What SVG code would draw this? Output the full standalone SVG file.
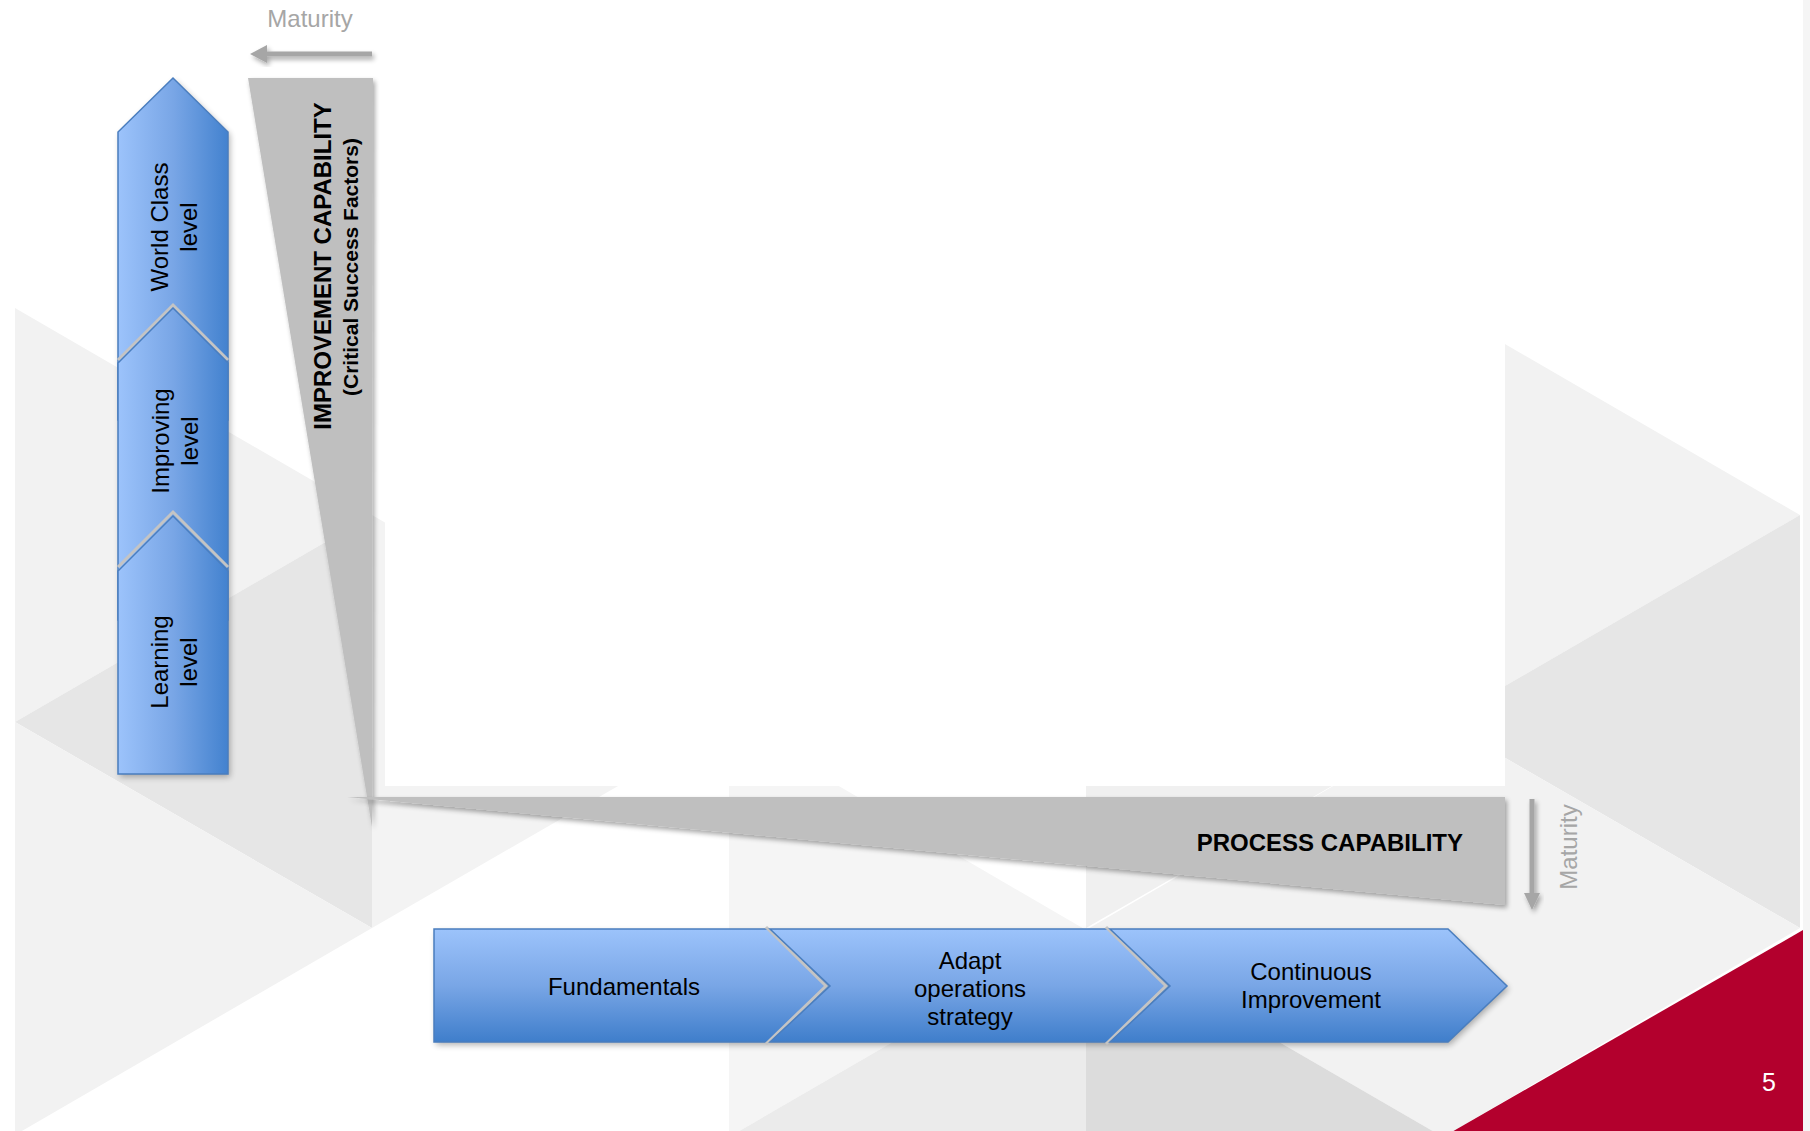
<svg xmlns="http://www.w3.org/2000/svg" width="1810" height="1131" viewBox="0 0 1810 1131">
<defs>
<style>
.t{font-family:"Liberation Sans",Arial,sans-serif;font-size:24px;fill:#000}
.b{font-weight:bold}
.mat{font-family:"Liberation Sans",Arial,sans-serif;font-size:24px;fill:#a6a6a6}
.blueV{fill:url(#gv);stroke:#4a7ebf;stroke-width:1.5}
.blueH{fill:url(#gh);stroke:#4a7ebf;stroke-width:1.5}
.bevel{fill:none;stroke:#c4c4c4;stroke-width:3}
.grey{fill:#bfbfbf}
.axis{stroke:#7f7f7f;stroke-width:5;fill:none}
.marr{stroke:#a6a6a6;stroke-width:5;fill:none}
.shadow{fill:#000;opacity:0.3}
</style>
<linearGradient id="gv" x1="0" y1="0" x2="0" y2="1">
<stop offset="0" stop-color="#9cc3fb"/>
<stop offset="0.5" stop-color="#79a6e6"/>
<stop offset="1" stop-color="#3f7ecb"/>
</linearGradient>
<linearGradient id="gh" x1="0" y1="0" x2="1" y2="0">
<stop offset="0" stop-color="#9cc3fb"/>
<stop offset="0.5" stop-color="#79a6e6"/>
<stop offset="1" stop-color="#4382cf"/>
</linearGradient>
<filter id="sh" x="-20%" y="-20%" width="140%" height="140%">
<feGaussianBlur in="SourceAlpha" stdDeviation="2.5"/>
<feOffset dx="2" dy="3" result="o"/>
<feComponentTransfer><feFuncA type="linear" slope="0.35"/></feComponentTransfer>
<feMerge><feMergeNode/><feMergeNode in="SourceGraphic"/></feMerge>
</filter>
<filter id="blur" x="-20%" y="-20%" width="140%" height="140%">
<feGaussianBlur stdDeviation="3"/>
</filter>
</defs>

<g id="background">
<rect x="0" y="0" width="1810" height="1131" fill="#ffffff"/>
<polygon points="372,515 15,308 15,722" fill="#f2f2f2"/>
<polygon points="372,515 15,722 372,928" fill="#e6e6e6"/>
<polygon points="372,515 372,928 729,722" fill="#f3f3f3"/>
<polygon points="15,1135 372,928 15,722" fill="#f2f2f2"/>
<polygon points="1086,515 1086,928 1443,722" fill="#f0f0f0"/>
<polygon points="729,1137 1086,930 729,722" fill="#f5f5f5"/>
<polygon points="729,1137 1086,1342 1086,930" fill="#ebebeb"/>
<polygon points="1800,515 1443,308 1443,722" fill="#f2f2f2"/>
<polygon points="1800,515 1443,722 1800,928" fill="#e6e6e6"/>
<polygon points="1443,1137 1443,722 1086,930" fill="#f2f2f2"/>
<polygon points="1443,1137 1800,928 1443,722" fill="#f2f2f2"/>
<polygon points="1443,1137 1086,930 1086,1342" fill="#dcdcdc"/>
<polygon points="1443,1137 1803,930 1803,1342" fill="#b3002d"/>
<rect x="1803" y="0" width="7" height="1131" fill="#f5f5f5"/>
<rect x="385" y="0" width="1120" height="786" fill="#ffffff"/>
</g>

<g id="improvement-axis">
<polygon class="grey" filter="url(#sh)" points="248,78 373,78 372,827"/>
<text class="t b" transform="translate(331,266) rotate(-90)" text-anchor="middle">IMPROVEMENT CAPABILITY</text>
<text class="t b" style="font-size:21px" transform="translate(358,267) rotate(-90)" text-anchor="middle">(Critical Success Factors)</text>
</g>

<g id="process-axis">
<polygon class="grey" filter="url(#sh)" points="347,797 1505,797 1505,905"/>
<text class="t b" x="1463" y="851" text-anchor="end">PROCESS CAPABILITY</text>
</g>

<g id="connectors">
<line class="axis" filter="url(#sh)" x1="395" y1="78" x2="395" y2="747"/>
<line class="axis" filter="url(#sh)" x1="435" y1="774" x2="1505" y2="774"/>
<g filter="url(#sh)">
<line class="marr" x1="372" y1="54" x2="262" y2="54"/>
<polygon points="250,54 267,45 267,63" fill="#a6a6a6"/>
</g>
<g filter="url(#sh)">
<line class="marr" x1="1532" y1="799" x2="1532" y2="896"/>
<polygon points="1532,910 1524,893 1540,893" fill="#a6a6a6"/>
</g>
<text class="mat" x="310" y="27" text-anchor="middle">Maturity</text>
<text class="mat" transform="translate(1577,847) rotate(-90)" text-anchor="middle">Maturity</text>
</g>

<g id="shadows">
<polygon class="shadow" filter="url(#blur)" transform="translate(2,3)" points="118,774 118,132 173,78 228,132 228,774"/>
<polygon class="shadow" filter="url(#blur)" transform="translate(2,3)" points="434,929 1448,929 1507,986 1448,1042 434,1042"/>
</g>

<g id="world-class">
<polygon class="blueH" points="118,420 118,132 173,78 228,132 228,420"/>
<text class="t" transform="translate(168,227) rotate(-90)" text-anchor="middle">World Class</text>
<text class="t" transform="translate(197,227) rotate(-90)" text-anchor="middle">level</text>
</g>
<g id="improving">
<polyline class="bevel" points="118,360 173,305 228,360"/>
<polygon class="blueH" points="118,620 118,363 173,308 228,363 228,620"/>
<text class="t" transform="translate(169,441) rotate(-90)" text-anchor="middle">Improving</text>
<text class="t" transform="translate(198,441) rotate(-90)" text-anchor="middle">level</text>
</g>
<g id="learning">
<polyline class="bevel" points="118,567 173,512 228,567"/>
<polygon class="blueH" points="118,774 118,571 173,516 228,571 228,774"/>
<text class="t" transform="translate(168,662) rotate(-90)" text-anchor="middle">Learning</text>
<text class="t" transform="translate(197,662) rotate(-90)" text-anchor="middle">level</text>
</g>

<g id="fundamentals">
<polygon class="blueV" points="434,929 768,929 828,986 768,1042 434,1042"/>
<text class="t" x="624" y="995" text-anchor="middle">Fundamentals</text>
</g>
<g id="adapt">
<polyline class="bevel" points="766,927 826,986 766,1044"/>
<polygon class="blueV" points="770,929 1108,929 1168,986 1108,1042 770,1042 830,986"/>
<text class="t" x="970" y="969" text-anchor="middle">Adapt</text>
<text class="t" x="970" y="997" text-anchor="middle">operations</text>
<text class="t" x="970" y="1025" text-anchor="middle">strategy</text>
</g>
<g id="continuous">
<polyline class="bevel" points="1106,927 1166,986 1106,1044"/>
<polygon class="blueV" points="1110,929 1448,929 1507,986 1448,1042 1110,1042 1170,986"/>
<text class="t" x="1311" y="980" text-anchor="middle">Continuous</text>
<text class="t" x="1311" y="1008" text-anchor="middle">Improvement</text>
</g>

<text x="1769" y="1091" text-anchor="middle" style="font-family:'Liberation Sans',Arial,sans-serif;font-size:25px;fill:#ffffff">5</text>
</svg>
